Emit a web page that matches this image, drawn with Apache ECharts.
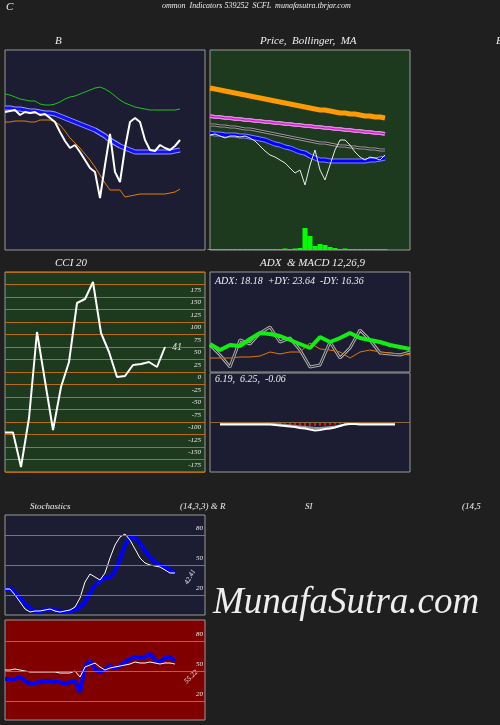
<!DOCTYPE html>
<html>
<head>
<meta charset="utf-8">
<script src="https://cdn.jsdelivr.net/npm/echarts@6/dist/echarts.min.js"></script>
<style>html,body{margin:0;padding:0;background:#1f1f1f}#c{width:500px;height:725px}</style>
</head>
<body>
<div id="c"></div>
<script>
// B panel (levels, top of panel = 50)
const bPrice = [112,111,110,115,112,113,112,115,114,118,122,132,141,148,145,152,160,168,172,198,165,134,172,182,148,122,118,122,140,150,151,145,148,150,146,140];
const bMid = [108,108,109,109,110,111,111,112,113,113,114,116,118,120,122,124,126,128,130,133,136,140,143,146,148,150,152,152,152,152,152,152,152,152,151,150];
const bUpper = [94,95,97,99,100,101,101,104,105,105,104,102,99,97,96,94,92,90,88,87,89,92,96,100,103,105,107,108,109,110,110,110,110,110,110,109];
const bLower = [122,122,121,121,121,122,122,120,120,120,122,125,131,138,143,148,154,160,167,175,183,190,190,190,197,196,195,194,194,194,194,194,194,193,192,189];
// Price panel
const pMa1 = [88,89,90,91,92,93,94,95,96,97,98,99,100,101,102,103,104,105,106,107,108,109,110,110,111,112,113,113,114,114,115,116,116,117,117,118];
const pMa2 = [116,117,117,118,118,119,119,120,120,121,121,122,122,123,123,124,124,125,125,126,126,127,127,128,128,129,129,130,130,131,131,132,132,133,133,134];
const pMa3 = [125,125,126,126,127,127,128,129,129,130,131,132,133,134,135,136,137,138,139,140,141,142,143,143,144,145,146,146,147,147,148,148,149,149,150,150];
const pMa4 = [133,134,134,135,135,135,136,136,137,138,139,140,142,144,145,147,148,150,152,153,156,158,160,160,161,161,161,161,161,161,161,161,160,160,159,158];
const pClose = [135,134,136,138,136,136,137,136,138,141,146,151,155,157,160,163,168,173,170,185,165,150,170,180,165,150,140,140,145,152,157,160,157,158,160,155];
const pVolume = [1,1,1,1,1,1,1,1,1,1,1,1,1,1,1,1.5,1,1.5,2,22,14,4,6,5,3,2,1,1.5,1,1,1,1,1,1,1,1];
// CCI 20
const cci = [-121,-121,-190,-92,80,-18,-116,-30,20,138,146,180,78,40,-10,-8,14,16,20,10,50];
// ADX panel (levels)
const adx = [344,350,345,346,339,333,334,336,340,344,348,337,342,338,333,338,340,342,345,347,349];
const adxMinus = [358,358,358,357,357,356,352,354,352,352,343,349,350,352,358,352,350,352,353,354,355];
const adxPlus = [345,355,367,340,344,333,327,342,338,350,367,365,342,358,348,330,340,353,354,355,352];
// MACD 12,26,9
const macdLine = [-0.4,-0.4,-0.4,-0.4,-0.4,-0.4,-0.4,-0.4,-0.4,-0.4,-0.4,-0.5,-0.6,-0.7,-0.8,-0.9,-1.1,-1.2,-1.4,-1.6,-1.5,-1.3,-1.2,-1,-0.7,-0.4,-0.3,-0.3,-0.4,-0.4,-0.4,-0.4,-0.4,-0.4,-0.4,-0.4];
const macdSignal = [-0.2,-0.2,-0.2,-0.2,-0.2,-0.2,-0.2,-0.2,-0.2,-0.2,-0.3,-0.3,-0.4,-0.5,-0.6,-0.7,-0.8,-0.9,-1,-1.1,-1.1,-1,-0.9,-0.8,-0.6,-0.4,-0.2,-0.2,-0.2,-0.2,-0.2,-0.2,-0.2,-0.2,-0.2,-0.2];
const macdHist = [-0.1,-0.1,0,0,0,0,0,0,0,0,-0.2,-0.3,-0.4,-0.5,-0.5,-0.6,-0.6,-0.7,-0.7,-0.7,-0.6,-0.6,-0.5,-0.4,-0.3,-0.2,-0.1,0,0,0,0,0,0,0,0,0];
// Stochastics 14,3,3
const stochK = [26,26,20,13,6,3,4,4,5,6,4,3,4,5,8,17,33,41,38,35,42,57,70,78,81,75,66,57,52,50,49,48,45,42,42];
const stochD = [25,27,22,17,11,7,4,4,5,5,5,4,4,4,5,8,13,22,30,34,37,38,44,56,70,78,77,72,64,58,53,50,48,45,42];
// RSI 14
const rsi = [42,42,42,44,40,37,38,39,40,40,39,39,37,39,40,29,54,60,52,49,52,55,53,55,59,62,64,63,64,67,61,59,63,64,60];
const rsiAvg = [51,51,52,51,50,49,49,49,49,49,49,48,48,48,50,44,54,56,58,54,51,53,54,55,56,57,59,58,58,59,58,57,58,58,57];
const levels = [20, 50, 80];

const cats = n => Array.from({length: n}, (_, i) => i);
const txt = '#eee', orange = '#b86a0c', navy = '#1c1c33', dgreen = '#1e3a1e';
const ff = 'Liberation Serif';

const grids = [
  {left: 5, top: 50, width: 200, height: 200, bg: navy},
  {left: 210, top: 50, width: 200, height: 200, bg: dgreen},
  {left: 5, top: 272, width: 200, height: 200, bg: dgreen},
  {left: 210, top: 272, width: 200, height: 100, bg: navy},
  {left: 210, top: 373, width: 200, height: 99, bg: navy},
  {left: 5, top: 515, width: 200, height: 100, bg: navy},
  {left: 5, top: 620, width: 200, height: 100, bg: '#800000'}
].map(g => ({left: g.left, top: g.top, width: g.width, height: g.height, show: true,
  outerBoundsMode: 'none', containLabel: false,
  backgroundColor: g.bg, borderColor: '#999', borderWidth: 1}));

const xCount = [41, 41, 26, 21, 41, 41, 41, 41];
const xAxis = [0, 1, 2, 3, 4, 5, 6, 1].map((g, i) => ({type: 'category', gridIndex: g, data: cats(xCount[i]),
  boundaryGap: false, show: false}));

const hidden = {axisLine: {show: false}, axisTick: {show: false}, axisLabel: {show: false}, splitLine: {show: false}};
const yAxis = [
  Object.assign({gridIndex: 0, type: 'value', inverse: true, min: 50, max: 250}, hidden),
  Object.assign({gridIndex: 1, type: 'value', inverse: true, min: 50, max: 250}, hidden),
  {gridIndex: 2, type: 'value', position: 'right', min: -200, max: 200, interval: 25, axisLine: {show: false}, axisTick: {show: false},
    splitLine: {lineStyle: {color: orange, width: 1}},
    axisLabel: {inside: true, margin: 4, color: txt, fontSize: 7, fontStyle: 'italic', fontFamily: ff,
      verticalAlign: 'top', padding: [2, 0, 0, 0], formatter: v => Math.abs(v) > 175 ? '' : v}},
  Object.assign({gridIndex: 3, type: 'value', inverse: true, min: 272, max: 372}, hidden),
  Object.assign({gridIndex: 4, type: 'value', min: -10, max: 10}, hidden),
  Object.assign({gridIndex: 5, type: 'value', min: 0, max: 100}, hidden),
  Object.assign({gridIndex: 6, type: 'value', min: 1, max: 101}, hidden),
  Object.assign({gridIndex: 1, type: 'value', min: 0, max: 200}, hidden)
];

function line(xi, data, color, width, z) {
  return {type: 'line', xAxisIndex: xi, yAxisIndex: xi, data: data, symbol: 'none',
    lineStyle: {color: color, width: width}, z: z || 2, silent: true};
}
function lvlLines(xi) {
  return {type: 'line', xAxisIndex: xi, yAxisIndex: xi, data: [], silent: true,
    markLine: {symbol: 'none', silent: true, lineStyle: {color: orange, type: 'solid', width: 1},
      label: {position: 'insideEndTop', color: txt, fontSize: 7, fontStyle: 'italic', fontFamily: ff, distance: [2, 3]},
      data: levels.map(v => ({yAxis: v}))}};
}

const series = [
  line(0, bUpper, '#1fc21f', 1),
  line(0, bLower, '#e08000', 1),
  line(0, bMid, '#9999ff', 5),
  line(0, bMid, '#1010ff', 3, 3),
  line(0, bPrice, '#ffffff', 2, 4),

  {type: 'bar', xAxisIndex: 7, yAxisIndex: 7, data: pVolume, barWidth: 5, itemStyle: {color: '#00ff00'}, silent: true},
  line(1, pMa1, '#ff9a00', 5),
  line(1, pMa2, '#dd88dd', 4),
  line(1, pMa2, '#cc00cc', 1, 3),
  line(1, pMa3, '#999999', 3),
  line(1, pMa3, '#111111', 1, 3),
  line(1, pMa4, '#8080ff', 5),
  line(1, pMa4, '#0000ff', 3, 3),
  line(1, pClose, '#e8e8e8', 1, 4),

  line(2, cci, '#ffffff', 2),

  line(3, adxPlus, '#aaaaaa', 3),
  line(3, adxPlus, '#222222', 1, 3),
  line(3, adxMinus, '#e07a00', 1),
  line(3, adx, '#11ee11', 4, 4),

  {type: 'bar', xAxisIndex: 4, yAxisIndex: 4, data: [null, null].concat(macdHist), barWidth: 2,
    itemStyle: {color: '#ee1111'}, silent: true,
    markLine: {symbol: 'none', silent: true, label: {show: false}, lineStyle: {color: '#8a6a3a', type: 'solid', width: 1}, data: [{yAxis: 0}]}},
  line(4, [null, null].concat(macdSignal), '#999999', 2),
  line(4, [null, null].concat(macdLine), '#ffffff', 2, 3),

  lvlLines(5),
  line(5, stochD, '#0000ff', 4),
  line(5, stochK, '#ffffff', 1, 3),

  lvlLines(6),
  line(6, rsi, '#0000ff', 4),
  line(6, rsiAvg, '#ffffff', 1, 3)
];

function t(x, y, s, font) {
  return {type: 'text', left: x, top: y, silent: true,
    style: {text: s, fill: txt, font: font || 'italic 11px "Liberation Serif"'}};
}
const graphic = [
  t(6, 2, 'C'),
  t(162, 2, 'ommon  Indicators 539252  SCFL  munafasutra.tbrjar.com', 'italic 8px "Liberation Serif"'),
  t(55, 36, 'B'),
  t(260, 36, 'Price,  Bollinger,  MA'),
  t(496, 36, 'B'),
  t(55, 258, 'CCI 20'),
  t(260, 258, 'ADX  & MACD 12,26,9'),
  t(215, 276, 'ADX: 18.18  +DY: 23.64  -DY: 16.36', 'italic 10px "Liberation Serif"'),
  t(215, 374, '6.19,  6.25,  -0.06', 'italic 10px "Liberation Serif"'),
  t(172, 342, '41', 'italic 10px "Liberation Serif"'),
  t(30, 502, 'Stochastics', 'italic 9px "Liberation Serif"'),
  t(180, 502, '(14,3,3) & R', 'italic 9px "Liberation Serif"'),
  t(305, 502, 'SI', 'italic 9px "Liberation Serif"'),
  t(462, 502, '(14,5', 'italic 9px "Liberation Serif"'),
  {type: 'text', x: 183, y: 582, rotation: Math.PI / 3, silent: true,
    style: {text: '42.41', fill: txt, font: 'italic 7px "Liberation Serif"'}},
  {type: 'text', x: 183, y: 680, rotation: Math.PI / 4, silent: true,
    style: {text: '55.22', fill: txt, font: 'italic 7px "Liberation Serif"'}},
  t(213, 585, 'MunafaSutra.com', 'italic 37px "Liberation Serif"')
];

const chart = echarts.init(document.getElementById('c'));
chart.setOption({
  backgroundColor: '#1f1f1f',
  animation: false,
  grid: grids,
  xAxis: xAxis,
  yAxis: yAxis,
  series: series,
  graphic: graphic
});
</script>
</body>
</html>
